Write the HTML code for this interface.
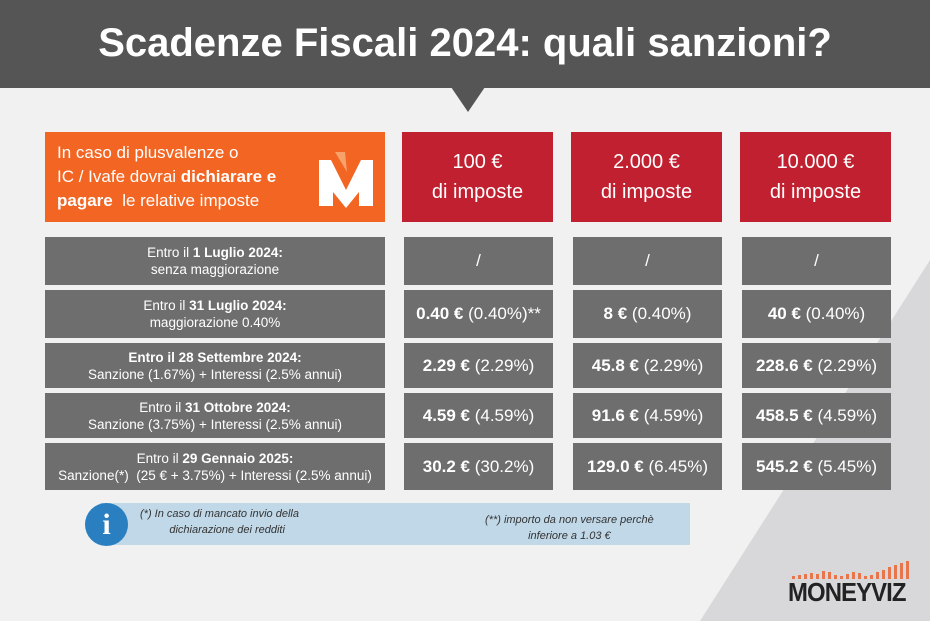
<!DOCTYPE html><html><head><meta charset="utf-8"><style>
*{margin:0;padding:0;box-sizing:border-box}
body{width:930px;height:621px;overflow:hidden;position:relative;background:#eeeeee;font-family:"Liberation Sans",sans-serif}
.bg2{position:absolute;left:0;top:0;width:930px;height:621px;background:#f1f1f1}
.hdr{position:absolute;left:0;top:0;width:930px;height:88px;background:#555555;color:#fff;font-weight:bold;font-size:40px;text-align:center;line-height:86px}
.tri{position:absolute;left:451px;top:87px;width:0;height:0;border-left:17px solid transparent;border-right:17px solid transparent;border-top:25px solid #555}
.box{position:absolute;color:#fff;display:flex;align-items:center;justify-content:center;text-align:center}
.or{left:45px;top:132px;width:340px;height:90px;background:#f26522;font-size:17px;line-height:24px;justify-content:flex-start;text-align:left;padding-left:12px}
.rd{top:132px;width:151px;height:90px;background:#c0202f;font-size:20px;line-height:30px}
.lf{left:45px;width:340px;background:#6e6e6e;font-size:13.5px;line-height:17px}
.v{width:149px;background:#6e6e6e;font-size:17px}
.info{position:absolute;left:100px;top:503px;width:590px;height:42px;background:#c0d8e8;font-style:italic;font-size:11px;color:#333;line-height:16px}
</style></head><body>
<div class="bg2"></div>
<svg style="position:absolute;left:0;top:0" width="930" height="621"><polygon points="700,621 930,260 930,621" fill="#d8d8da"/></svg>
<div class="hdr">Scadenze Fiscali 2024: quali sanzioni?</div>
<div class="tri"></div>
<div class="box or"><div>In caso di plusvalenze o<br>IC / Ivafe dovrai <b>dichiarare e<br>pagare</b>&nbsp; le relative imposte</div>
<svg style="position:absolute;left:272px;top:20px" width="58" height="56" viewBox="0 0 58 56"><path d="M2 8 L14 8 L29 38 L44 8 L56 8 L56 54 L42 54 L42 40 L29 56 L16 40 L16 54 L2 54 Z" fill="#fff"/><path d="M18 0 L28 0 L30 20 Z" fill="#f7a26a"/></svg></div>
<div class="box rd" style="left:402px">100 €<br>di imposte</div>
<div class="box rd" style="left:571px">2.000 €<br>di imposte</div>
<div class="box rd" style="left:740px">10.000 €<br>di imposte</div>

<div class="box lf" style="top:237px;height:48px"><div>Entro il <b>1 Luglio 2024:</b><br>senza maggiorazione</div></div>
<div class="box lf" style="top:290px;height:48px"><div>Entro il <b>31 Luglio 2024:</b><br>maggiorazione 0.40%</div></div>
<div class="box lf" style="top:343px;height:45px"><div><b>Entro il 28 Settembre 2024:</b><br>Sanzione (1.67%) + Interessi (2.5% annui)</div></div>
<div class="box lf" style="top:393px;height:45px"><div>Entro il <b>31 Ottobre 2024:</b><br>Sanzione (3.75%) + Interessi (2.5% annui)</div></div>
<div class="box lf" style="top:443px;height:47px"><div>Entro il <b>29 Gennaio 2025:</b><br>Sanzione(*)&nbsp; (25 € + 3.75%) + Interessi (2.5% annui)</div></div>

<div class="box v" style="left:404px;top:237px;height:48px">/</div>
<div class="box v" style="left:573px;top:237px;height:48px">/</div>
<div class="box v" style="left:742px;top:237px;height:48px">/</div>
<div class="box v" style="left:404px;top:290px;height:48px"><b>0.40 €</b>&nbsp;(0.40%)**</div>
<div class="box v" style="left:573px;top:290px;height:48px"><b>8 €</b>&nbsp;(0.40%)</div>
<div class="box v" style="left:742px;top:290px;height:48px"><b>40 €</b>&nbsp;(0.40%)</div>
<div class="box v" style="left:404px;top:343px;height:45px"><b>2.29 €</b>&nbsp;(2.29%)</div>
<div class="box v" style="left:573px;top:343px;height:45px"><b>45.8 €</b>&nbsp;(2.29%)</div>
<div class="box v" style="left:742px;top:343px;height:45px"><b>228.6 €</b>&nbsp;(2.29%)</div>
<div class="box v" style="left:404px;top:393px;height:45px"><b>4.59 €</b>&nbsp;(4.59%)</div>
<div class="box v" style="left:573px;top:393px;height:45px"><b>91.6 €</b>&nbsp;(4.59%)</div>
<div class="box v" style="left:742px;top:393px;height:45px"><b>458.5 €</b>&nbsp;(4.59%)</div>
<div class="box v" style="left:404px;top:443px;height:47px"><b>30.2 €</b>&nbsp;(30.2%)</div>
<div class="box v" style="left:573px;top:443px;height:47px"><b>129.0 €</b>&nbsp;(6.45%)</div>
<div class="box v" style="left:742px;top:443px;height:47px"><b>545.2 €</b>&nbsp;(5.45%)</div>

<div class="info">
<div style="position:absolute;left:40px;top:3px;text-align:center">(*) In caso di mancato invio della<br>&nbsp;&nbsp;&nbsp;&nbsp;&nbsp;dichiarazione dei redditi</div>
<div style="position:absolute;left:385px;top:9px;text-align:center">(**) importo da non versare perchè<br>inferiore a 1.03 €</div>
</div>
<div style="position:absolute;left:85px;top:503px;width:43px;height:43px;border-radius:50%;background:#2a7fc0;color:#fff;font-weight:bold;font-size:30px;text-align:center;line-height:43px;font-family:'Liberation Serif',serif">i</div>

<svg style="position:absolute;left:790px;top:560px" width="130" height="20">
<g fill="#e8764a"><rect x="2" y="16" width="3" height="3"/><rect x="8" y="15" width="3" height="4"/><rect x="14" y="14" width="3" height="5"/><rect x="20" y="13" width="3" height="6"/><rect x="26" y="14" width="3" height="5"/><rect x="32" y="11" width="3" height="8"/><rect x="38" y="12" width="3" height="7"/><rect x="44" y="15" width="3" height="4"/><rect x="50" y="16" width="3" height="3"/><rect x="56" y="14" width="3" height="5"/><rect x="62" y="12" width="3" height="7"/><rect x="68" y="13" width="3" height="6"/><rect x="74" y="16" width="3" height="3"/><rect x="80" y="15" width="3" height="4"/><rect x="86" y="12" width="3" height="7"/><rect x="92" y="10" width="3" height="9"/><rect x="98" y="7" width="3" height="12"/><rect x="104" y="5" width="3" height="14"/><rect x="110" y="3" width="3" height="16"/><rect x="116" y="1" width="3" height="18"/></g></svg>
<div style="position:absolute;left:788px;top:577px;font-weight:bold;font-size:26px;color:#222;letter-spacing:-1px;transform:scaleX(0.92);transform-origin:left">MONEYVIZ</div>
</body></html>
